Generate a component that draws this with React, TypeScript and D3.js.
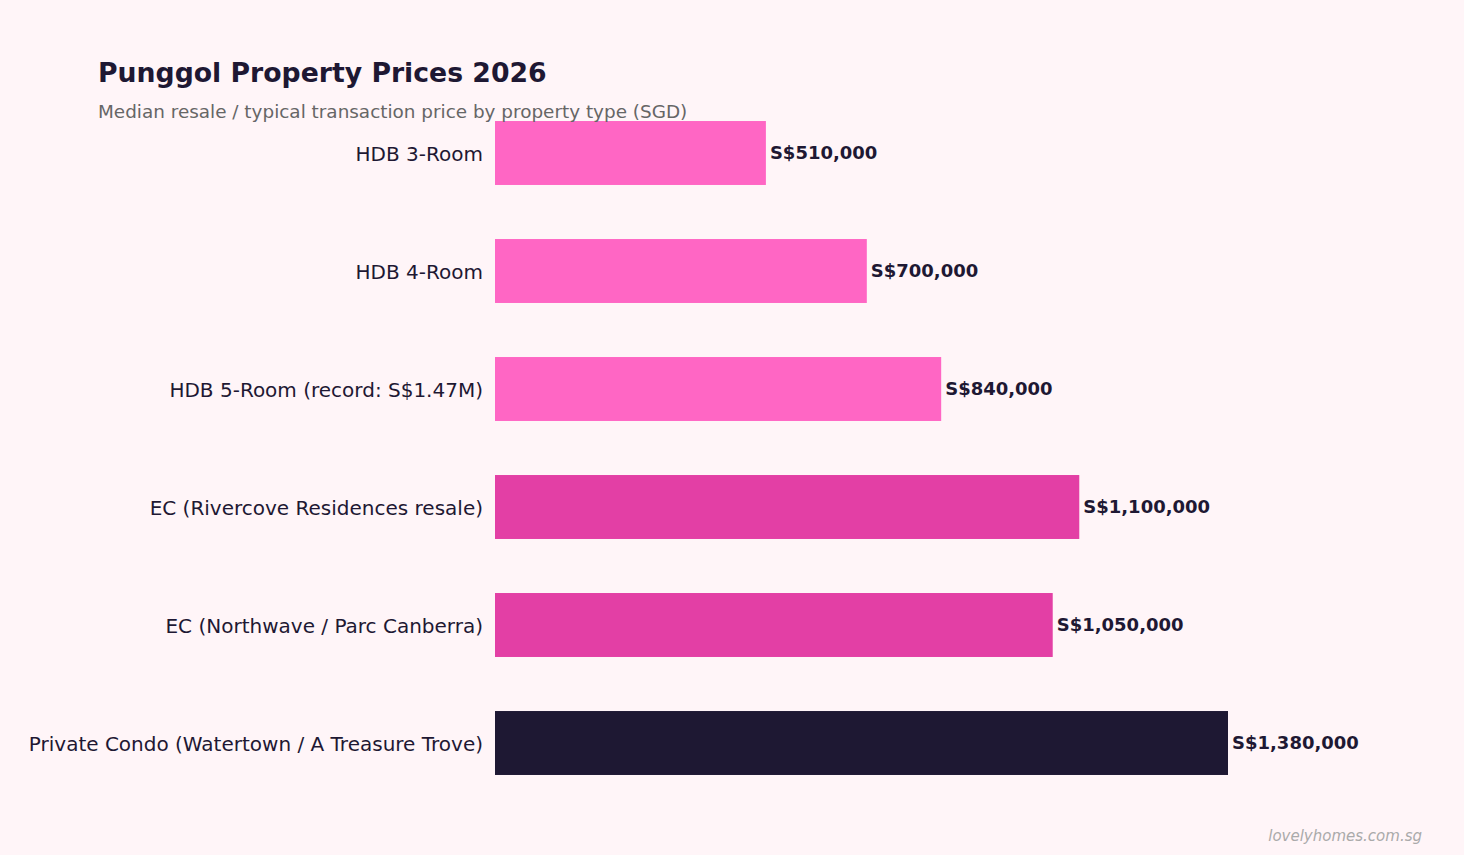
import React, { useEffect, useRef } from "react";
import * as d3 from "d3";

const categories = [
  "HDB 3-Room",
  "HDB 4-Room",
  "HDB 5-Room (record: S$1.47M)",
  "EC (Rivercove Residences resale)",
  "EC (Northwave / Parc Canberra)",
  "Private Condo (Watertown / A Treasure Trove)",
];
const prices = [510000, 700000, 840000, 1100000, 1050000, 1380000];
const groups = ["hdb", "hdb", "hdb", "ec", "ec", "condo"];

const groupColor: Record<string, string> = {
  hdb: "#FF66C4",
  ec: "#E33FA5",
  condo: "#1E1833",
};

function App() {
  const ref = useRef<SVGSVGElement>(null);

  useEffect(() => {
    const width = 1464;
    const height = 855;
    const svg = d3.select(ref.current).attr("width", width).attr("height", height);
    svg.selectAll("*").remove();

    const font = "'DejaVu Sans', sans-serif";
    const ink = "#1E1833";

    svg.append("rect").attr("width", width).attr("height", height).attr("fill", "#FFF5F8");

    const x = d3.scaleLinear().domain([0, 1380000]).range([495, 1228]);
    const y = d3
      .scaleBand<string>()
      .domain(categories)
      .range([94, 802])
      .paddingInner(0.458)
      .paddingOuter(0.229);

    const rows = categories.map((c, i) => ({ cat: c, value: prices[i], group: groups[i] }));

    svg
      .append("g")
      .selectAll("rect")
      .data(rows)
      .join("rect")
      .attr("x", x(0))
      .attr("y", d => y(d.cat)!)
      .attr("width", d => x(d.value) - x(0))
      .attr("height", y.bandwidth())
      .attr("fill", d => groupColor[d.group]);

    // category labels
    svg
      .append("g")
      .attr("font-family", font)
      .attr("font-size", 20)
      .attr("fill", ink)
      .attr("text-anchor", "end")
      .selectAll("text")
      .data(rows)
      .join("text")
      .attr("x", x(0) - 12)
      .attr("y", d => y(d.cat)! + y.bandwidth() / 2 + 1)
      .attr("dy", "0.35em")
      .text(d => d.cat);

    // value labels
    const fmt = d3.format(",");
    svg
      .append("g")
      .attr("font-family", font)
      .attr("font-size", 18)
      .attr("font-weight", "bold")
      .attr("fill", ink)
      .selectAll("text")
      .data(rows)
      .join("text")
      .attr("x", d => x(d.value) + 4)
      .attr("y", d => y(d.cat)! + y.bandwidth() / 2)
      .attr("dy", "0.35em")
      .text(d => `S$${fmt(d.value)}`);

    svg
      .append("text")
      .attr("x", 98)
      .attr("y", 82)
      .attr("font-family", font)
      .attr("font-size", 26.7)
      .attr("font-weight", "bold")
      .attr("fill", ink)
      .text("Punggol Property Prices 2026");

    svg
      .append("text")
      .attr("x", 98)
      .attr("y", 118)
      .attr("font-family", font)
      .attr("font-size", 18.4)
      .attr("fill", "#666666")
      .text("Median resale / typical transaction price by property type (SGD)");

    svg
      .append("text")
      .attr("x", 1422)
      .attr("y", 841)
      .attr("text-anchor", "end")
      .attr("font-family", font)
      .attr("font-size", 15)
      .attr("font-style", "italic")
      .attr("fill", "#AAAAAA")
      .text("lovelyhomes.com.sg");
  }, []);

  return <svg ref={ref} style={{ position: "absolute", left: 0, top: 0 }}></svg>;
}

export default App;
